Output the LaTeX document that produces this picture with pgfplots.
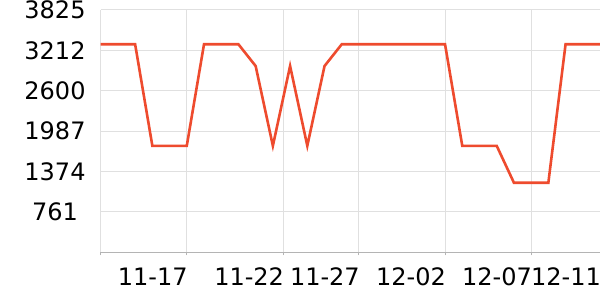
\documentclass[border=0pt]{standalone}
\usepackage{pgfplots}
\pgfplotsset{compat=1.18}
\usepackage{fontspec}
\setmainfont{DejaVu Sans}
\definecolor{linec}{HTML}{EE4B2E}
\definecolor{gridc}{HTML}{E0E0E0}
\definecolor{axisc}{HTML}{B4B4B4}
\begin{document}
\begin{tikzpicture}
\begin{axis}[
  at={(100.7bp,47.6bp)}, anchor=south west,
  scale only axis, width=499.3bp, height=242.4bp,
  xmin=0, xmax=29, ymin=148, ymax=3825,
  axis x line*=bottom, axis y line*=left,
  x axis line style={draw=axisc, line width=1bp},
  y axis line style={draw=none},
  xtick={0,5,10.6,15,20,25,29},
  xticklabels={,11-17,11-22,11-27,12-02,12-07,12-11},
  ytick={148,760.83,1373.67,1986.5,2599.33,3212.17,3825},
  yticklabels={,761,1374,1987,2600,3212,3825},
  grid=major, major grid style={draw=gridc, line width=1bp},
  tick align=outside, major tick length=3bp,
  x tick style={draw=axisc, line width=1bp},
  y tick style={draw=none},
  tick label style={font=\fontsize{24bp}{28bp}\selectfont, text=black, inner sep=0pt},
  xticklabel style={anchor=north east, yshift=-12.5bp, xshift=1bp},
  yticklabel style={anchor=center, xshift=-42.7bp},
]
\addplot[linec, line width=2.6bp, mark=none] coordinates {
(0,3305) (1,3305) (2,3305) (3,1765) (4,1765) (5,1765) (6,3305) (7,3305)
(8,3305) (9,2975) (10,1765) (11,2975) (12,1765) (13,2975) (14,3305) (15,3305)
(16,3305) (17,3305) (18,3305) (19,3305) (20,3305) (21,1765) (22,1765) (23,1765)
(24,1205) (25,1205) (26,1205) (27,3305) (28,3305) (29,3305)
};
\end{axis}
\pgfresetboundingbox
\useasboundingbox (0,0) rectangle (600bp,300bp);
\end{tikzpicture}
\end{document}
